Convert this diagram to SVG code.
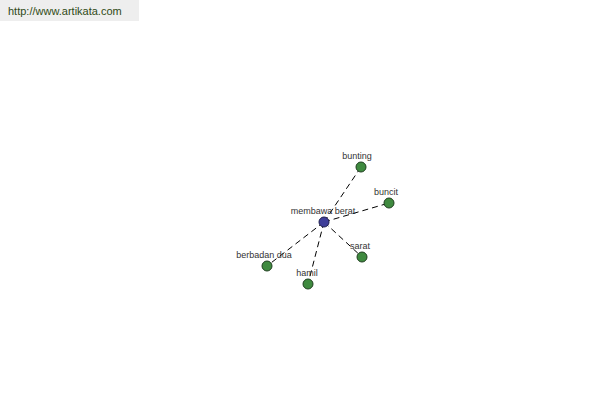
<svg xmlns="http://www.w3.org/2000/svg" width="600" height="400" viewBox="0 0 600 400">
<style>
.lbl{font-family:"Liberation Sans",Arial,sans-serif;font-size:9px;fill:#333;text-anchor:middle}
.edge{stroke:#000;stroke-width:1;stroke-dasharray:6,4;fill:none}
.leaf{fill:#3f8a3f;stroke:#1f3f1f;stroke-width:1}
.hub{fill:#3f3f9a;stroke:#1f1f4f;stroke-width:1}
</style>
<rect x="0" y="0" width="600" height="400" fill="#fff"/>
<rect x="0" y="0" width="139" height="21" fill="#eeeeee"/>
<text x="8" y="15" font-family="Liberation Sans,Arial,sans-serif" font-size="11" fill="#2e4a16">http://www.artikata.com</text>
<g id="connectors">
<line class="edge" x1="324" y1="222" x2="361" y2="167"/>
<line class="edge" x1="324" y1="222" x2="389" y2="203"/>
<line class="edge" x1="324" y1="222" x2="362" y2="257"/>
<line class="edge" x1="324" y1="222" x2="308" y2="284"/>
<line class="edge" x1="324" y1="222" x2="267" y2="266"/>
</g>
<g id="node-bunting"><circle class="leaf" cx="361" cy="167" r="5"/><text class="lbl" x="357" y="159">bunting</text></g>
<g id="node-buncit"><circle class="leaf" cx="389" cy="203" r="5"/><text class="lbl" x="386" y="195">buncit</text></g>
<g id="node-sarat"><circle class="leaf" cx="362" cy="257" r="5"/><text class="lbl" x="360" y="249">sarat</text></g>
<g id="node-hamil"><circle class="leaf" cx="308" cy="284" r="5"/><text class="lbl" x="307" y="276">hamil</text></g>
<g id="node-berbadan-dua"><circle class="leaf" cx="267" cy="266" r="5"/><text class="lbl" x="264" y="258">berbadan dua</text></g>
<g id="node-membawa-berat"><circle class="hub" cx="324" cy="222" r="5"/><text class="lbl" x="323" y="214">membawa berat</text></g>
</svg>
